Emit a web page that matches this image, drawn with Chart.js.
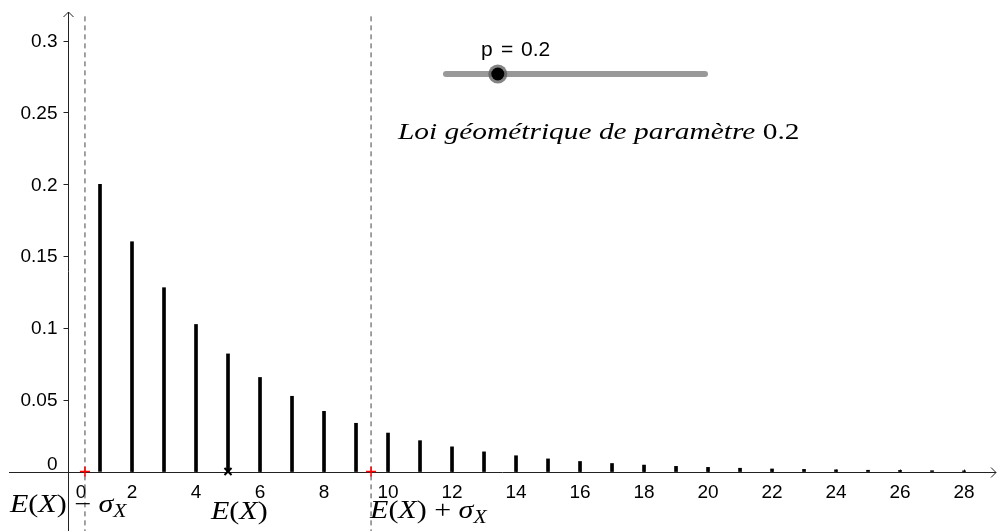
<!DOCTYPE html>
<html>
<head>
<meta charset="utf-8">
<script src="https://cdn.jsdelivr.net/npm/chart.js"></script>
<style>
  html, body { margin:0; padding:0; background:#fff; }
  #wrap { width:997px; height:531px; }
</style>
</head>
<body>
<div id="wrap"><canvas id="myChart" width="997" height="531"></canvas></div>
<script>
// parametre du curseur
var p = 0.2;

// valeurs de X et probabilites
var valeursK = [1, 2, 3, 4, 5, 6, 7, 8, 9, 10, 11, 12, 13, 14, 15, 16, 17, 18, 19, 20, 21, 22, 23, 24, 25, 26, 27, 28];
var probas = [0.2, 0.16, 0.128, 0.1024, 0.0819, 0.0655, 0.0524, 0.0419, 0.0336, 0.0268, 0.0215, 0.0172, 0.0137, 0.011,
              0.0088, 0.007, 0.0056, 0.0045, 0.0036, 0.0029, 0.0023, 0.0018, 0.0015, 0.0012, 0.0009, 0.0008, 0.0006, 0.0005];

// esperance et ecart-type
var esperance = 5;
var ecartType = 4.47;

// graduations
var ticksX = [0, 2, 4, 6, 8, 10, 12, 14, 16, 18, 20, 22, 24, 26, 28];
var ticksY = [0, 0.05, 0.1, 0.15, 0.2, 0.25, 0.3];
var labelsY = ['0', '0.05', '0.1', '0.15', '0.2', '0.25', '0.3'];

var SANS = '"Liberation Sans", Arial, sans-serif';
var SERIF = '"Liberation Serif", "Times New Roman", serif';

// texte "LaTeX" morceau par morceau : [texte, italique?, indice?]
// etire en largeur pour approcher la police Computer Modern
function drawRich(ctx, x, y, parts, size, etire) {
    ctx.save();
    ctx.translate(x, y);
    ctx.scale(etire, 1);
    ctx.textBaseline = 'alphabetic';
    ctx.textAlign = 'left';
    var cx = 0;
    for (var i = 0; i < parts.length; i++) {
        var t = parts[i][0], it = parts[i][1], sub = parts[i][2];
        var s = sub ? Math.round(size * 0.7) : size;
        ctx.font = (it ? 'italic ' : '') + s + 'px ' + SERIF;
        ctx.fillText(t, cx, sub ? 5 : 0);
        cx += ctx.measureText(t).width;
    }
    ctx.restore();
}

var geoAxes = {
    id: 'geoAxes',
    beforeDatasetsDraw: function(chart) {
        var ctx = chart.ctx, sx = chart.scales.x, sy = chart.scales.y;
        var x0 = Math.round(sx.getPixelForValue(0)) + 0.5;
        var y0 = Math.round(sy.getPixelForValue(0)) + 0.5;
        ctx.save();
        ctx.strokeStyle = '#222';
        ctx.lineWidth = 1;
        ctx.beginPath();
        // axe des x
        ctx.moveTo(9, y0); ctx.lineTo(996, y0);
        ctx.moveTo(991, y0 - 5); ctx.lineTo(996, y0); ctx.lineTo(991, y0 + 5);
        // axe des y
        ctx.moveTo(x0, 531); ctx.lineTo(x0, 12);
        ctx.moveTo(x0 - 5, 17); ctx.lineTo(x0, 12); ctx.lineTo(x0 + 5, 17);
        // graduations
        for (var i = 1; i < ticksY.length; i++) {
            var py = Math.round(sy.getPixelForValue(ticksY[i])) + 0.5;
            ctx.moveTo(x0 - 5, py); ctx.lineTo(x0, py);
        }
        for (var j = 1; j < ticksX.length; j++) {
            var px = Math.round(sx.getPixelForValue(ticksX[j])) + 0.5;
            ctx.moveTo(px, y0 - 3); ctx.lineTo(px, y0);
        }
        ctx.stroke();

        // etiquettes
        ctx.fillStyle = '#000';
        ctx.font = '19px ' + SANS;
        ctx.textAlign = 'right';
        ctx.textBaseline = 'middle';
        for (var i = 1; i < ticksY.length; i++) {
            ctx.fillText(labelsY[i], x0 - 11, sy.getPixelForValue(ticksY[i]) + 1);
        }
        ctx.fillText('0', x0 - 11, y0 - 8);
        ctx.textAlign = 'center';
        for (var j = 0; j < ticksX.length; j++) {
            var lx = sx.getPixelForValue(ticksX[j]);
            if (ticksX[j] === 0) lx += 13;
            ctx.fillText(String(ticksX[j]), lx, y0 + 20);
        }
        ctx.restore();
    },
    afterDraw: function(chart) {
        var ctx = chart.ctx, sx = chart.scales.x;
        ctx.save();
        // curseur p
        var a = 446, b = 705, yc = 74;
        ctx.strokeStyle = 'rgba(110,110,110,0.7)';
        ctx.lineWidth = 6;
        ctx.lineCap = 'round';
        ctx.beginPath(); ctx.moveTo(a, yc); ctx.lineTo(b, yc); ctx.stroke();
        var kx = a + p * (b - a);
        ctx.fillStyle = 'rgba(90,90,90,0.75)';
        ctx.beginPath(); ctx.arc(kx, yc, 9.5, 0, 2 * Math.PI); ctx.fill();
        ctx.fillStyle = '#000';
        ctx.beginPath(); ctx.arc(kx, yc, 6.5, 0, 2 * Math.PI); ctx.fill();
        ctx.font = '21px ' + SANS;
        ctx.textAlign = 'left';
        ctx.textBaseline = 'alphabetic';
        ctx.fillText('p', 481, 56);
        ctx.fillText('=', 501, 56);
        ctx.fillText(String(p), 521, 56);

        // titre
        drawRich(ctx, 398, 139, [['Loi g\u00e9om\u00e9trique de param\u00e8tre', true], [' ' + p, false]], 24, 1.225);

        // etiquettes E(X), E(X) - sigma, E(X) + sigma
        drawRich(ctx, 10, 512, [['E', true], ['(', false], ['X', true], [')', false], [' \u2212 ', false], ['\u03c3', true], ['X', true, true]], 25, 1.2);
        drawRich(ctx, 211, 519, [['E', true], ['(', false], ['X', true], [')', false]], 25, 1.2);
        drawRich(ctx, sx.getPixelForValue(esperance + ecartType) - 1, 518, [['E', true], ['(', false], ['X', true], [')', false], [' + ', false], ['\u03c3', true], ['X', true, true]], 25, 1.2);
        ctx.restore();
    }
};

var ctx = document.getElementById('myChart').getContext('2d');
var chart = new Chart(ctx, {
    type: 'bar',
    data: {
        datasets: [
            {
                type: 'bar',
                data: valeursK.map(function(k, i) { return { x: k, y: probas[i] }; }),
                backgroundColor: '#000',
                barThickness: 3,
                order: 3
            },
            {
                type: 'line',
                data: [{ x: esperance - ecartType, y: -0.05 }, { x: esperance - ecartType, y: 0.3186 }],
                borderColor: '#444', borderWidth: 1, borderDash: [5, 4], pointRadius: 0, order: 2
            },
            {
                type: 'line',
                data: [{ x: esperance + ecartType, y: -0.05 }, { x: esperance + ecartType, y: 0.3186 }],
                borderColor: '#444', borderWidth: 1, borderDash: [5, 4], pointRadius: 0, order: 2
            },
            {
                type: 'line', showLine: false,
                data: [{ x: esperance, y: 0 }],
                pointStyle: 'crossRot', pointRadius: 5, borderColor: '#000', borderWidth: 2, order: 1
            },
            {
                type: 'line', showLine: false,
                data: [{ x: esperance - ecartType, y: 0 }, { x: esperance + ecartType, y: 0 }],
                pointStyle: 'cross', pointRadius: 5, borderColor: '#ff0000', borderWidth: 1.5, order: 1
            }
        ]
    },
    options: {
        responsive: false,
        animation: false,
        devicePixelRatio: 1,
        layout: { padding: 0, autoPadding: false },
        plugins: { legend: { display: false }, tooltip: { enabled: false } },
        scales: {
            x: { type: 'linear', min: -2.125, max: 29.03, offset: false, display: false },
            y: { type: 'linear', min: -0.0414, max: 0.3283, display: false }
        }
    },
    plugins: [geoAxes]
});
</script>
</body>
</html>
